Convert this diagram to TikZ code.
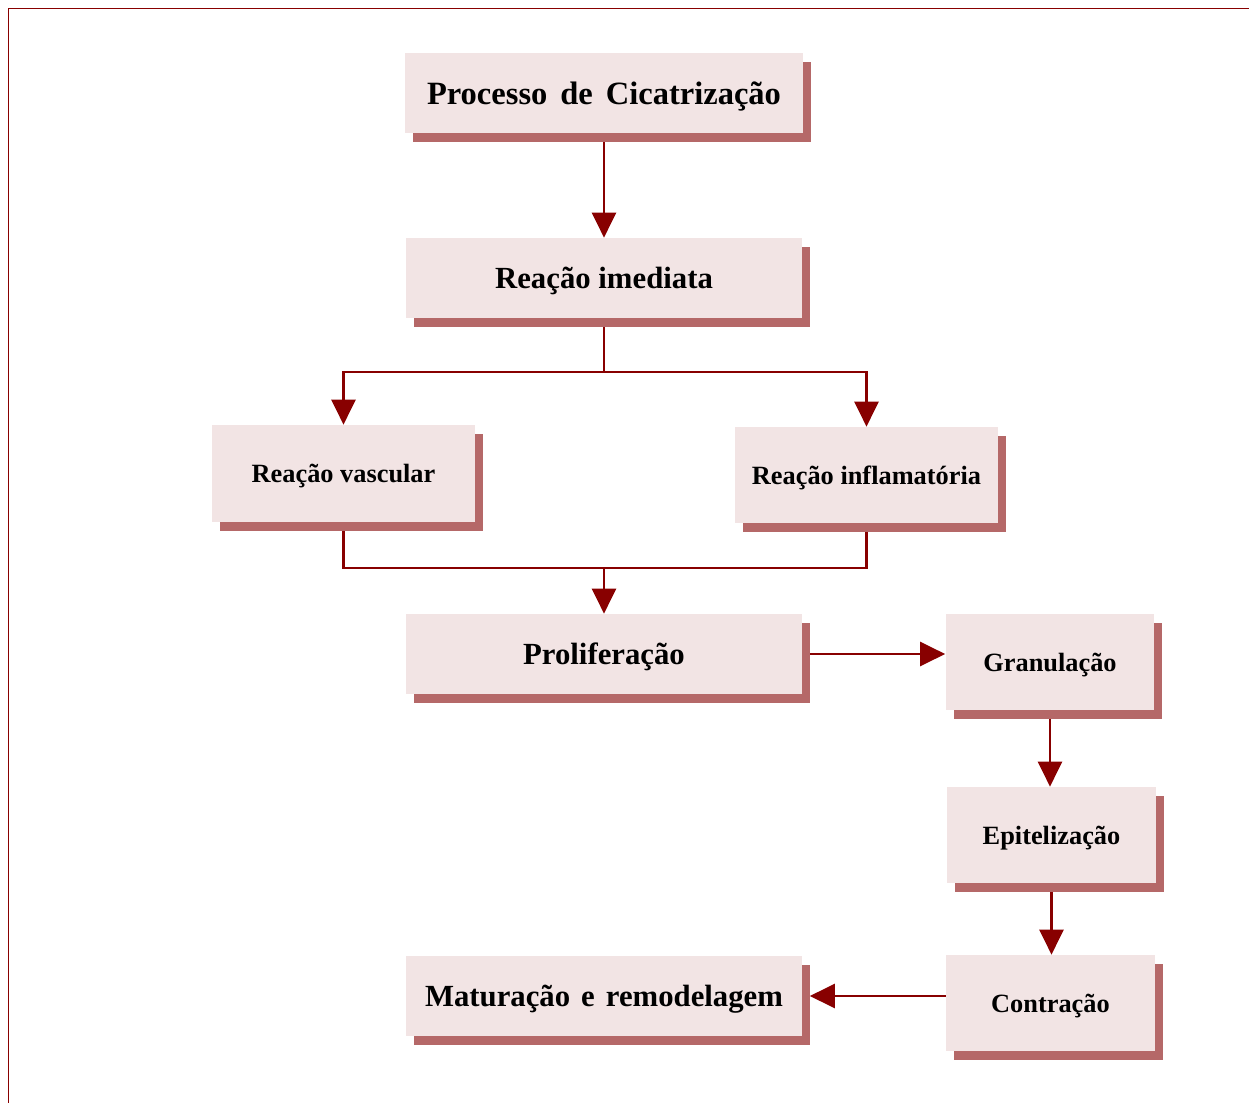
\documentclass[tikz,border=0pt]{standalone}
\usepackage{fontspec}
\setmainfont{Liberation Serif}
\usetikzlibrary{arrows.meta, shadows, backgrounds}
\definecolor{boxpink}{HTML}{F2E4E4}
\definecolor{shadowred}{HTML}{B56868}
\definecolor{linered}{HTML}{880000}

\tikzset{
  stage/.style={rectangle, fill=boxpink, inner sep=0pt, text depth=0pt,
    font=\bfseries\fontsize{15}{18}\selectfont,
    general shadow={fill=shadowred, shadow xshift=0.16cm, shadow yshift=-0.18cm}},
  bigstage/.style={stage, font=\bfseries\fontsize{17.5}{20}\selectfont},
  flow/.style={draw=linered, line width=1.3pt, -{Triangle[length=0.5cm,width=0.48cm]}},
  link/.style={draw=linered, line width=1.3pt}
}

\begin{document}
\begin{tikzpicture}[x=0.02cm, y=-0.02cm]
\useasboundingbox (0,0) rectangle (1249,1103);
\draw[linered, line width=1.1pt] (8.5,1103) -- (8.5,8.5) -- (1249,8.5);

% etapas
\node[bigstage, minimum width=7.96cm, minimum height=1.6cm] (proc) at (604,93) {\fontsize{18.5}{20}\selectfont\spaceskip=0.4em Processo de Cicatrização\hspace{0.15cm}};
\node[bigstage, minimum width=7.94cm, minimum height=1.6cm] (imed) at (604,278) {Reação imediata};
\node[stage, minimum width=5.26cm, minimum height=1.94cm] (vasc) at (343.5,473.5) {Reação vascular};
\node[stage, minimum width=5.26cm, minimum height=1.92cm] (infl) at (866.5,475) {Reação inflamatória};
\node[bigstage, minimum width=7.94cm, minimum height=1.6cm] (prolif) at (604,654) {Proliferação};
\node[stage, minimum width=4.18cm, minimum height=1.92cm] (gran) at (1050,662) {Granulação};
\node[stage, minimum width=4.18cm, minimum height=1.92cm] (epit) at (1051.5,835) {Epitelização};
\node[stage, minimum width=4.18cm, minimum height=1.92cm] (contr) at (1050.5,1003) {Contração};
\node[bigstage, minimum width=7.94cm, minimum height=1.6cm] (mat) at (604,996) {\spaceskip=0.36em Maturação e remodelagem};

\coordinate (split) at (604,372);
\coordinate (join) at (604,568);

% ligacoes
\begin{scope}[on background layer]
\draw[flow] (proc) -- (imed);
\draw[link] (imed.south) -- (split);
\draw[flow] (split) -| (vasc.north);
\draw[flow] (split) -| (infl.north);
\draw[link] (vasc.south) |- (join) -| (infl.south);
\draw[flow] (join) -- (prolif.north);
\draw[flow] (prolif.east) -- (prolif.east -| gran.west);
\draw[flow] (gran.south) -- (gran.south |- epit.north);
\draw[flow] (epit.south) -- (epit.south |- contr.north);
\draw[flow] (contr.west |- mat.east) -- ([xshift=0.14cm]mat.east);
\end{scope}
\end{tikzpicture}
\end{document}
